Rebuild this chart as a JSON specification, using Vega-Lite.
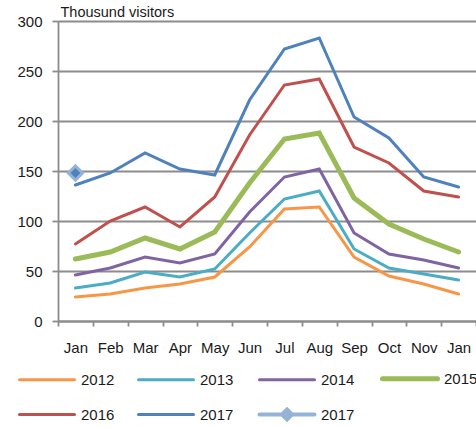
{
  "$schema": "https://vega.github.io/schema/vega-lite/v6.json",
  "width": 418,
  "height": 300,
  "autosize": {"type": "none"},
  "padding": {"left": 58, "top": 21, "right": 0, "bottom": 106},
  "background": "white",
  "config": {
    "view": {"stroke": null},
    "font": "Liberation Sans",
    "axis": {
      "domainColor": "#8c8c8c",
      "domainWidth": 1.8,
      "gridColor": "#8c8c8c",
      "gridWidth": 1.8,
      "tickColor": "#8c8c8c",
      "tickWidth": 1.8,
      "labelFont": "Liberation Sans",
      "labelFontSize": 15,
      "labelColor": "#1a1a1a",
      "titleFont": "Liberation Sans"
    }
  },
  "data": {
    "values": [
      {"m": "Jan", "series": "2012", "v": 24}, {"m": "Feb", "series": "2012", "v": 27}, {"m": "Mar", "series": "2012", "v": 33}, {"m": "Apr", "series": "2012", "v": 37}, {"m": "May", "series": "2012", "v": 44}, {"m": "Jun", "series": "2012", "v": 74}, {"m": "Jul", "series": "2012", "v": 112}, {"m": "Aug", "series": "2012", "v": 114}, {"m": "Sep", "series": "2012", "v": 64}, {"m": "Oct", "series": "2012", "v": 45}, {"m": "Nov", "series": "2012", "v": 37}, {"m": "Jan2", "series": "2012", "v": 27},
      {"m": "Jan", "series": "2013", "v": 33}, {"m": "Feb", "series": "2013", "v": 38}, {"m": "Mar", "series": "2013", "v": 49}, {"m": "Apr", "series": "2013", "v": 44}, {"m": "May", "series": "2013", "v": 52}, {"m": "Jun", "series": "2013", "v": 88}, {"m": "Jul", "series": "2013", "v": 122}, {"m": "Aug", "series": "2013", "v": 130}, {"m": "Sep", "series": "2013", "v": 72}, {"m": "Oct", "series": "2013", "v": 53}, {"m": "Nov", "series": "2013", "v": 47}, {"m": "Jan2", "series": "2013", "v": 41},
      {"m": "Jan", "series": "2014", "v": 46}, {"m": "Feb", "series": "2014", "v": 53}, {"m": "Mar", "series": "2014", "v": 64}, {"m": "Apr", "series": "2014", "v": 58}, {"m": "May", "series": "2014", "v": 67}, {"m": "Jun", "series": "2014", "v": 109}, {"m": "Jul", "series": "2014", "v": 144}, {"m": "Aug", "series": "2014", "v": 152}, {"m": "Sep", "series": "2014", "v": 88}, {"m": "Oct", "series": "2014", "v": 67}, {"m": "Nov", "series": "2014", "v": 61}, {"m": "Jan2", "series": "2014", "v": 53},
      {"m": "Jan", "series": "2015", "v": 62}, {"m": "Feb", "series": "2015", "v": 69}, {"m": "Mar", "series": "2015", "v": 83}, {"m": "Apr", "series": "2015", "v": 72}, {"m": "May", "series": "2015", "v": 89}, {"m": "Jun", "series": "2015", "v": 138}, {"m": "Jul", "series": "2015", "v": 182}, {"m": "Aug", "series": "2015", "v": 188}, {"m": "Sep", "series": "2015", "v": 123}, {"m": "Oct", "series": "2015", "v": 97}, {"m": "Nov", "series": "2015", "v": 82}, {"m": "Jan2", "series": "2015", "v": 69},
      {"m": "Jan", "series": "2016", "v": 77}, {"m": "Feb", "series": "2016", "v": 100}, {"m": "Mar", "series": "2016", "v": 114}, {"m": "Apr", "series": "2016", "v": 94}, {"m": "May", "series": "2016", "v": 124}, {"m": "Jun", "series": "2016", "v": 186}, {"m": "Jul", "series": "2016", "v": 236}, {"m": "Aug", "series": "2016", "v": 242}, {"m": "Sep", "series": "2016", "v": 174}, {"m": "Oct", "series": "2016", "v": 158}, {"m": "Nov", "series": "2016", "v": 130}, {"m": "Jan2", "series": "2016", "v": 124},
      {"m": "Jan", "series": "2017", "v": 136}, {"m": "Feb", "series": "2017", "v": 148}, {"m": "Mar", "series": "2017", "v": 168}, {"m": "Apr", "series": "2017", "v": 152}, {"m": "May", "series": "2017", "v": 146}, {"m": "Jun", "series": "2017", "v": 221}, {"m": "Jul", "series": "2017", "v": 272}, {"m": "Aug", "series": "2017", "v": 283}, {"m": "Sep", "series": "2017", "v": 204}, {"m": "Oct", "series": "2017", "v": 183}, {"m": "Nov", "series": "2017", "v": 144}, {"m": "Jan2", "series": "2017", "v": 134},
      {"m": "Jan", "series": "2017m", "v": 148}
    ]
  },
  "encoding": {
    "x": {
      "field": "m",
      "type": "ordinal",
      "sort": null,
      "scale": {"type": "band", "paddingInner": 0, "paddingOuter": 0},
      "axis": {
        "title": null,
        "labelAngle": 0,
        "tickBand": "extent",
        "tickSize": 5,
        "labelPadding": 14,
        "labelExpr": "datum.label == 'Jan2' ? 'Jan' : datum.label",
        "grid": false
      }
    },
    "y": {
      "field": "v",
      "type": "quantitative",
      "scale": {"domain": [0, 300], "nice": false},
      "axis": {
        "values": [0, 50, 100, 150, 200, 250, 300],
        "tickSize": 6,
        "labelPadding": 10,
        "title": "Thousund visitors",
        "titleAngle": 0,
        "titleAlign": "left",
        "titleBaseline": "alphabetic",
        "titleX": 2,
        "titleY": -5,
        "titleFontSize": 14.5,
        "titleFontWeight": "normal",
        "titleColor": "#1a1a1a"
      }
    }
  },
  "layer": [
    {
      "transform": [{"filter": "datum.series !== '2017m'"}],
      "mark": {"type": "line", "strokeCap": "round", "strokeJoin": "miter"},
      "encoding": {
        "color": {
          "field": "series",
          "type": "nominal",
          "scale": {
            "domain": ["2012", "2013", "2014", "2015", "2016", "2017", "2017m"],
            "range": ["#F79646", "#4BACC6", "#8064A2", "#9BBB59", "#C0504D", "#4F81BD", "#95B3D7"]
          },
          "legend": {
            "title": null,
            "orient": "none",
            "legendX": -36,
            "legendY": 350,
            "direction": "horizontal",
            "columns": 4,
            "padding": 0,
            "columnPadding": 17,
            "rowPadding": 12,
            "symbolSize": 400,
            "labelOffset": 44,
            "labelFontSize": 15,
            "labelFont": "Liberation Sans",
            "labelColor": "#1a1a1a",
            "labelExpr": "datum.label == '2017m' ? '2017' : datum.label",
            "encode": {
              "symbols": {
                "update": {
                  "shape": {"signal": "datum.value == '2017m' ? 'M-1,0L4.5,0M1.75,-0.5L2.25,0L1.75,0.5L1.25,0Z' : 'M-1,0L4.5,0'"},
                  "strokeWidth": {"signal": "datum.value == '2015' ? 5 : (datum.value == '2017m' ? 4 : 3)"},
                  "fill": {"signal": "datum.value == '2017m' ? '#4F81BD' : 'transparent'"},
                  "strokeCap": {"value": "round"}
                }
              }
            }
          }
        },
        "strokeWidth": {
          "condition": {"test": "datum.series === '2015'", "value": 5},
          "value": 3
        }
      }
    },
    {
      "transform": [{"filter": "datum.series === '2017m'"}],
      "mark": {"type": "point", "shape": "diamond", "filled": true, "fill": "#4F81BD", "stroke": "#95B3D7", "strokeWidth": 3, "size": 200, "opacity": 1}
    }
  ]
}
